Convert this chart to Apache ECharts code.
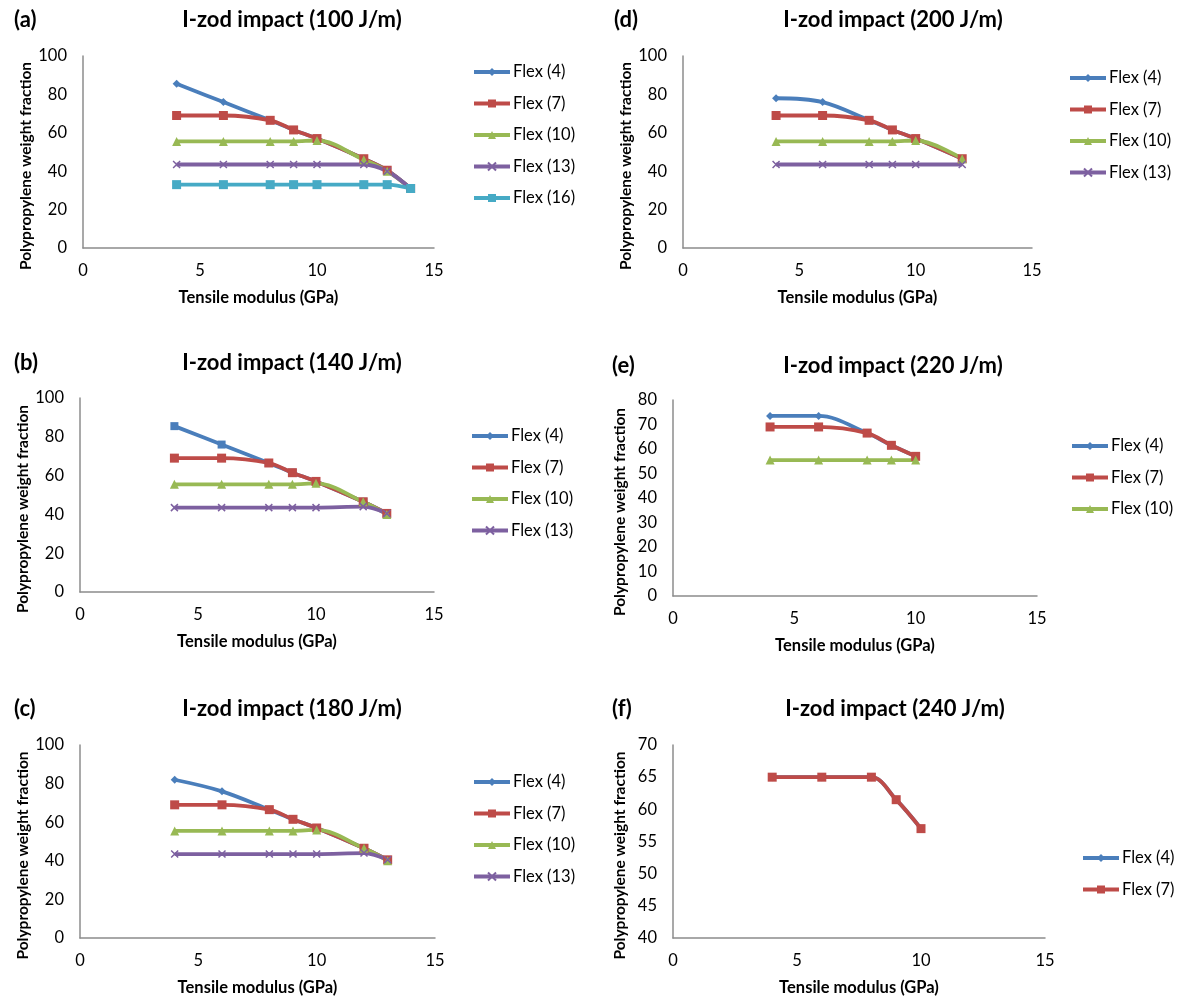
<!DOCTYPE html>
<html>
<head>
<meta charset="utf-8">
<script src="https://cdn.jsdelivr.net/npm/echarts@6/dist/echarts.min.js"></script>
<style>html,body{margin:0;padding:0;background:#fff;}#chart{width:1180px;height:1000px;}</style>
</head>
<body>
<div id="chart"></div>
<script>
// ---- Data ----
const xA = [4, 6, 8, 9, 10, 12, 13, 14];
const a_flex4  = [85.5, 76, 66.5, 61.5, 57, 46.5, 40.5, 31];
const a_flex7  = [69, 69, 66.5, 61.5, 57, 46.5, 40.5, 31];
const a_flex10 = [55.5, 55.5, 55.5, 55.5, 56, 46, 40, 31];
const a_flex13 = [43.5, 43.5, 43.5, 43.5, 43.5, 43.5, 40, 31];
const a_flex16 = [33, 33, 33, 33, 33, 33, 33, 31];

const xB = [4, 6, 8, 9, 10, 12, 13];
const b_flex4  = [85.5, 76, 66.5, 61.5, 57, 46.5, 40.5];
const b_flex7  = [69, 69, 66.5, 61.5, 57, 46.5, 40.5];
const b_flex10 = [55.5, 55.5, 55.5, 55.5, 56, 46.5, 40];
const b_flex13 = [43.5, 43.5, 43.5, 43.5, 43.5, 44, 40.5];

const xC = [4, 6, 8, 9, 10, 12, 13];
const c_flex4  = [82, 76, 66.5, 61.5, 57, 46.5, 40.5];
const c_flex7  = [69, 69, 66.5, 61.5, 57, 46.5, 40.5];
const c_flex10 = [55.5, 55.5, 55.5, 55.5, 56, 46.5, 40];
const c_flex13 = [43.5, 43.5, 43.5, 43.5, 43.5, 44, 40.5];

const xD = [4, 6, 8, 9, 10, 12];
const d_flex4  = [78, 76, 66.5, 61.5, 57, 46.5];
const d_flex7  = [69, 69, 66.5, 61.5, 57, 46.5];
const d_flex10 = [55.5, 55.5, 55.5, 55.5, 56, 46.5];
const d_flex13 = [43.5, 43.5, 43.5, 43.5, 43.5, 43.5];

const xE = [4, 6, 8, 9, 10];
const e_flex4  = [73.5, 73.5, 66.5, 61.5, 57];
const e_flex7  = [69, 69, 66.5, 61.5, 57];
const e_flex10 = [55.5, 55.5, 55.5, 55.5, 55.5];

const xF = [4, 6, 8, 9, 10];
const f_flex4  = [65, 65, 65, 61.5, 57];
const f_flex7  = [65, 65, 65, 61.5, 57];

const panelLetters = ['(a)', '(b)', '(c)', '(d)', '(e)', '(f)'];
const panelTitles = ['I-zod impact (100 J/m)', 'I-zod impact (140 J/m)', 'I-zod impact (180 J/m)',
                     'I-zod impact (200 J/m)', 'I-zod impact (220 J/m)', 'I-zod impact (240 J/m)'];
const xTicks = [0, 5, 10, 15];
const xName = 'Tensile modulus (GPa)';
const yName = 'Polypropylene weight fraction';

// ---- Styling ----
const FONT = 'Lato, "Open Sans", sans-serif';
const COLORS = {4: '#4A7EBB', 7: '#BE4B48', 10: '#98B954', 13: '#7D60A0', 16: '#46AAC5'};
const XPATH = 'path://M0,0L10,10M10,0L0,10';
const SYMBOLS = {4: 'diamond', 7: 'rect', 10: 'triangle', 13: XPATH, 16: 'rect'};
const SIZES = {4: 8, 7: 9, 10: 9, 13: 7, 16: 9};

function zip(xs, ys) { return xs.map((x, i) => [x, ys[i]]); }

const panels = [
  {grid: [83, 56, 351, 192], titleTop: 4, letterLeft: 9, tcx: 287, yMin: 0, yMax: 100, yInt: 20, legLeft: 472, legTop: 58},
  {grid: [80, 398, 354, 194], titleTop: 347, letterLeft: 9, tcx: 287, yMin: 0, yMax: 100, yInt: 20, legLeft: 470, legTop: 422},
  {grid: [80, 745, 355, 193], titleTop: 693, letterLeft: 9, tcx: 287, yMin: 0, yMax: 100, yInt: 20, legLeft: 472, legTop: 768},
  {grid: [683, 56, 349, 192], titleTop: 4, letterLeft: 609, tcx: 888, yMin: 0, yMax: 100, yInt: 20, legLeft: 1068, legTop: 64},
  {grid: [673, 400, 364, 196], titleTop: 350, letterLeft: 607, tcx: 888, yMin: 0, yMax: 80, yInt: 10, legLeft: 1070, legTop: 432},
  {grid: [673, 745, 372, 193], titleTop: 693, letterLeft: 607, tcx: 890, yMin: 40, yMax: 70, yInt: 5, legLeft: 1081, legTop: 844}
];

const seriesDefs = [
  [[4, xA, a_flex4], [7, xA, a_flex7], [10, xA, a_flex10], [13, xA, a_flex13], [16, xA, a_flex16]],
  [[4, xB, b_flex4, 'rect'], [7, xB, b_flex7], [10, xB, b_flex10], [13, xB, b_flex13]],
  [[4, xC, c_flex4], [7, xC, c_flex7], [10, xC, c_flex10], [13, xC, c_flex13]],
  [[4, xD, d_flex4], [7, xD, d_flex7], [10, xD, d_flex10], [13, xD, d_flex13]],
  [[4, xE, e_flex4], [7, xE, e_flex7], [10, xE, e_flex10]],
  [[4, xF, f_flex4], [7, xF, f_flex7]]
];

const option = {
  backgroundColor: '#fff',
  animation: false,
  title: [], grid: [], xAxis: [], yAxis: [], legend: [], series: []
};

panels.forEach((p, i) => {
  option.title.push({
    text: panelLetters[i], left: p.letterLeft, top: p.titleTop,
    textStyle: {fontFamily: FONT, fontWeight: 'bold', fontSize: 22, color: '#000'}
  });
  option.title.push({
    text: panelTitles[i], left: p.tcx, top: p.titleTop, textAlign: 'center',
    textStyle: {fontFamily: FONT, fontWeight: 'bold', fontSize: 22, color: '#000'}
  });
  option.grid.push({left: p.grid[0], top: p.grid[1], width: p.grid[2], height: p.grid[3], containLabel: false});
  option.xAxis.push({
    type: 'value', gridIndex: i, min: 0, max: 15, interval: 5,
    name: xName, nameLocation: 'middle', nameGap: 41,
    nameTextStyle: {fontFamily: FONT, fontWeight: 'bold', fontSize: 16.5, color: '#000'},
    axisLine: {show: true, lineStyle: {color: '#8C8C8C', width: 1.5}},
    axisTick: {show: false}, splitLine: {show: false},
    axisLabel: {fontFamily: FONT, fontSize: 16.5, color: '#000', margin: 14,
      formatter: v => xTicks.includes(v) ? String(v) : ''}
  });
  option.yAxis.push({
    type: 'value', gridIndex: i, min: p.yMin, max: p.yMax, interval: p.yInt,
    name: yName, nameLocation: 'middle', nameGap: 45,
    nameTextStyle: {fontFamily: FONT, fontWeight: 'bold', fontSize: 15.5, color: '#000', padding: [0, 28, 0, 0]},
    axisLine: {show: true, lineStyle: {color: '#8C8C8C', width: 1.5}},
    axisTick: {show: false}, splitLine: {show: false},
    axisLabel: {fontFamily: FONT, fontSize: 16.5, color: '#000', margin: 16}
  });
  const names = [];
  seriesDefs[i].forEach(d => {
    const flex = d[0];
    const name = 'Flex (' + flex + ')';
    names.push(name);
    const sym = d[3] || SYMBOLS[flex];
    const isX = sym === XPATH;
    option.series.push({
      type: 'line', name: name, xAxisIndex: i, yAxisIndex: i,
      data: zip(d[1], d[2]),
      smooth: 0.35,
      symbol: sym, symbolSize: SIZES[flex],
      showAllSymbol: true,
      lineStyle: {color: COLORS[flex], width: 3.8},
      itemStyle: isX ? {color: COLORS[flex], borderColor: COLORS[flex], borderWidth: 1.5}
                     : {color: COLORS[flex], borderColor: COLORS[flex], borderWidth: 0},
      emphasis: {disabled: true}
    });
  });
  option.legend.push({
    data: names, orient: 'vertical', left: p.legLeft - 5, top: p.legTop,
    itemWidth: 36, itemHeight: 10, itemGap: 13.5,
    lineStyle: {width: 4},
    textStyle: {fontFamily: FONT, fontSize: 16.5, lineHeight: 18, color: '#000', padding: [0, 0, 0, -2]},
    selectedMode: false
  });
});

const chart = echarts.init(document.getElementById('chart'), null, {renderer: 'canvas'});
chart.setOption(option);
</script>
</body>
</html>
